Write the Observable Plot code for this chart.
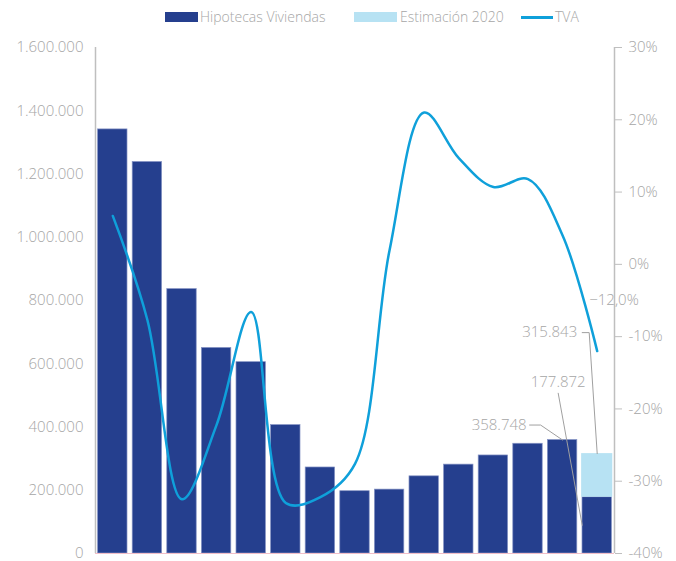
<!DOCTYPE html>
<html>
<head>
<meta charset="utf-8">
<script src="https://cdn.jsdelivr.net/npm/d3@7"></script>
<script src="https://cdn.jsdelivr.net/npm/@observablehq/plot@0.6"></script>
<style>
  body { margin: 0; background: #fff; font-family: "Open Sans", sans-serif; }
  #wrap { position: relative; width: 676px; height: 561px; }
  #legend { position: relative; height: 35px; width: 676px; font-size: 14px; font-weight: 300; color: #A6A6A6; }
  #legend .sw { position: absolute; }
  #legend .tx { position: absolute; top: 7px; line-height: 20px; white-space: nowrap; }
  svg text { font-weight: 300; }
</style>
</head>
<body>
<div id="wrap">
  <div id="legend"></div>
  <div id="chart"></div>
</div>
<script>
// ---- data ----
const years = [2006, 2007, 2008, 2009, 2010, 2011, 2012, 2013, 2014, 2015, 2016, 2017, 2018, 2019, 2020];
const hipotecas = [1341000, 1238000, 836000, 650000, 605000, 406000, 272000, 197000, 202000, 244000, 281000, 310000, 347000, 358748, 177872];
const estimacion2020 = 315843;
const tva = [6.7, -7.7, -32.5, -22.2, -6.6, -33.0, -32.2, -27.6, 2.0, 21.0, 14.7, 10.7, 11.8, 4.0, -12.0];
const leftTicks = [0, 200000, 400000, 600000, 800000, 1000000, 1200000, 1400000, 1600000];
const rightTicks = [-40, -30, -20, -10, 0, 10, 20, 30];
const seriesNames = ["Hipotecas Viviendas", "Estimación 2020", "TVA"];

// ---- colours ----
const cDark = "#253F8E", cLight = "#B7E2F3", cLine = "#0FA0DA", cText = "#A6A6A6", cAxis = "#BFBFBF";

const loc = d3.formatLocale({decimal: ",", thousands: ".", grouping: [3], currency: ["", "€"]});
const fmtNum = loc.format(",.0f");
const fmtPct1 = v => loc.format(".1f")(v) + "%";

const yMax = 1600000, pMin = -40, pMax = 30;
const pctToY = p => (p - pMin) / (pMax - pMin) * yMax;
const yToPct = v => Math.round(v / yMax * (pMax - pMin) + pMin);

const data = years.map((year, i) => ({year, value: hipotecas[i], tva: tva[i]}));

const W = 676, H = 526, mL = 95, mR = 62, mT = 12, mB = 8;
const xDomain = [years[0] - 0.5, years[years.length - 1] + 0.5];
const sx = Plot.scale({x: {type: "linear", domain: xDomain, range: [mL, W - mR]}});
const sy = Plot.scale({y: {type: "linear", domain: [0, yMax], range: [H - mB, mT]}});
// helpers: offset a data point by pixels
const ox = (x, dx) => sx.invert(sx.apply(x) + dx);
const oy = (y, dy) => sy.invert(sy.apply(y) + dy);

const last = data[data.length - 1];
const y2019 = data[data.length - 2];

// annotation leaders (anchored to data with pixel offsets)
const lead2019 = [
  {x: ox(y2019.year, -33), y: oy(y2019.value, -15)},
  {x: ox(y2019.year, -22), y: oy(y2019.value, -15)},
  {x: y2019.year, y: y2019.value}
];
const lead2020 = [
  {x: ox(last.year, -39), y: oy(last.value, -104)},
  {x: ox(last.year, -15), y: oy(last.value, 28)}
];
const leadEst = [
  {x: ox(last.year, -15), y: oy(estimacion2020, -121)},
  {x: ox(last.year, -8), y: oy(estimacion2020, -121)},
  {x: last.year, y: estimacion2020}
];

const fs = 15;
const chart = Plot.plot({
  width: W, height: H,
  marginLeft: mL, marginRight: mR, marginTop: mT, marginBottom: mB,
  style: {fontFamily: "'Open Sans', sans-serif", fontSize: fs + "px", color: cText, background: "#fff"},
  x: {domain: xDomain, axis: null},
  y: {domain: [0, yMax], axis: null},
  marks: [
    Plot.rectY(data, {x1: d => d.year - 0.425, x2: d => d.year + 0.425, y: "value", fill: cDark, stroke: "#8593C4", strokeWidth: 0.7}),
    Plot.rectY([last], {x1: d => d.year - 0.45, x2: d => d.year + 0.45, y1: "value", y2: () => estimacion2020, fill: cLight}),
    Plot.ruleY([0], {stroke: "#F2BFC8", strokeWidth: 1.2}),
    Plot.ruleX([xDomain[0]], {stroke: cAxis, strokeWidth: 1.5}),
    Plot.ruleX([xDomain[1]], {stroke: cAxis, strokeWidth: 1.5}),
    Plot.axisY({anchor: "left", ticks: leftTicks, tickSize: 0, tickPadding: 12, tickFormat: fmtNum, fill: cText, fontSize: fs}),
    Plot.axisY({anchor: "right", ticks: rightTicks.map(pctToY), tickSize: 7, tickPadding: 7, stroke: cAxis, tickFormat: v => yToPct(v) + "%", fill: cText, fontSize: fs}),
    Plot.line(data, {x: "year", y: d => pctToY(d.tva), stroke: cLine, strokeWidth: 2.5, curve: "catmull-rom"}),
    // annotations
    Plot.line(lead2019, {x: "x", y: "y", stroke: "#A0A0A0", strokeWidth: 1}),
    Plot.line(lead2020, {x: "x", y: "y", stroke: "#A0A0A0", strokeWidth: 1}),
    Plot.line(leadEst, {x: "x", y: "y", stroke: "#A0A0A0", strokeWidth: 1}),
    Plot.text([y2019], {x: "year", y: "value", text: d => fmtNum(d.value), dx: -36, dy: -15, textAnchor: "end", fill: cText, fontSize: fs}),
    Plot.text([last], {x: "year", y: "value", text: d => fmtNum(d.value), dx: -39, dy: -115, textAnchor: "middle", fill: cText, fontSize: fs}),
    Plot.text([last], {x: "year", y: () => estimacion2020, text: () => fmtNum(estimacion2020), dx: -20, dy: -121, textAnchor: "end", fill: cText, fontSize: fs}),
    Plot.text([last], {x: "year", y: d => pctToY(d.tva), text: d => fmtPct1(d.tva), dx: -8, dy: -51, textAnchor: "start", fill: cText, fontSize: fs})
  ]
});
document.getElementById("chart").appendChild(chart);

// legend
const lg = document.getElementById("legend");
const items = [
  {type: "rect", color: cDark, sx: 165, sw: 33, tx: 200, name: seriesNames[0]},
  {type: "rect", color: cLight, sx: 354, sw: 43, tx: 400, name: seriesNames[1]},
  {type: "line", color: cLine, sx: 521, sw: 32, tx: 555, name: seriesNames[2]}
];
for (const it of items) {
  const s = document.createElement("div");
  s.className = "sw";
  s.style.left = it.sx + "px";
  s.style.width = it.sw + "px";
  s.style.background = it.color;
  if (it.type === "rect") { s.style.top = "12px"; s.style.height = "10px"; }
  else { s.style.top = "16px"; s.style.height = "2.5px"; }
  lg.appendChild(s);
  const t = document.createElement("div");
  t.className = "tx";
  t.style.left = it.tx + "px";
  t.textContent = it.name;
  lg.appendChild(t);
}
</script>
</body>
</html>
